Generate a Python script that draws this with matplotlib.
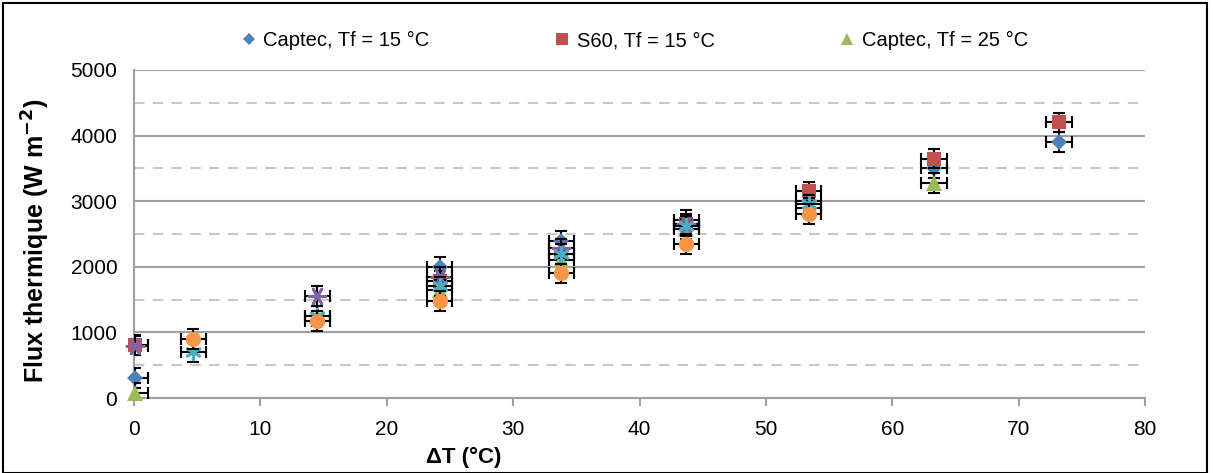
import matplotlib
matplotlib.use("Agg")
import matplotlib.pyplot as plt
from matplotlib.patches import Rectangle
from matplotlib.ticker import MultipleLocator

plt.rcParams['font.family'] = ['Liberation Sans', 'DejaVu Sans']

# ================================
# Data
# ================================

x_captec15 = [0.1, 24.2, 33.8, 43.7, 53.4, 63.3, 73.2]
y_captec15 = [300, 2000, 2400, 2720, 3000, 3500, 3900]

x_s60 = [0.1, 24.2, 33.8, 43.7, 53.4, 63.3, 73.2]
y_s60 = [810, 1790, 2200, 2650, 3150, 3650, 4200]

x_captec25 = [0.1, 14.5, 24.2, 33.8, 43.7, 53.4, 63.3]
y_captec25 = [80, 1250, 1650, 2100, 2580, 2900, 3280]

x_purple = [0.1, 14.5, 24.2, 33.8, 43.7]
y_purple = [800, 1560, 1850, 2280, 2650]

x_cyan = [4.7, 14.5, 24.2, 33.8, 43.7, 53.4]
y_cyan = [700, 1250, 1700, 2200, 2620, 2950]

x_orange = [4.7, 14.5, 24.2, 33.8, 43.7, 53.4]
y_orange = [900, 1170, 1480, 1900, 2350, 2800]

x_err = 1.0
y_err = 150

series = [
    (x_captec15, y_captec15, 'D', '#4F81BD', 8, 'Captec, Tf = 15 °C'),
    (x_s60, y_s60, 's', '#C0504D', 10, 'S60, Tf = 15 °C'),
    (x_captec25, y_captec25, '^', '#9BBB59', 11, 'Captec, Tf = 25 °C'),
    (x_purple, y_purple, 'star', '#8064A2', 0, None),
    (x_cyan, y_cyan, 'cross', '#4BACC6', 0, None),
    (x_orange, y_orange, 'o', '#F79646', 11, None),
]

# ================================
# Plot
# ================================

fig = plt.figure(figsize=(12.13, 4.73), dpi=100)
ax = fig.add_axes([134 / 1213, 75 / 473, 1011 / 1213, 328 / 473])

fig.patches.append(Rectangle((3 / 1213, 0), 1204 / 1213, 470 / 473,
                             transform=fig.transFigure, fill=False,
                             edgecolor='black', linewidth=1.5))

handles = []
for i, (xs, ys, mk, col, ms, lab) in enumerate(series):
    ax.errorbar(xs, ys, xerr=x_err, yerr=y_err, fmt='none', ecolor='black',
                elinewidth=1.5, capsize=4, capthick=1.5, zorder=3 + 2 * i)
    if mk == 'cross':
        h = ax.scatter(xs, ys, marker=(6, 2, 0), s=110, color=col,
                       linewidths=2, zorder=4 + 2 * i, clip_on=False)
    elif mk == 'star':
        h = ax.scatter(xs, ys, marker=(6, 2, 90), s=150, color=col,
                       linewidths=2, zorder=4 + 2 * i, clip_on=False)
    else:
        h, = ax.plot(xs, ys, linestyle='none', marker=mk, color=col,
                     markersize=ms, markeredgewidth=0, zorder=4 + 2 * i,
                     clip_on=False)
    if lab:
        h.set_label(lab)
        handles.append(h)

ax.set_xlim(0, 80)
ax.set_ylim(0, 5000)
ax.xaxis.set_major_locator(MultipleLocator(10))
ax.yaxis.set_major_locator(MultipleLocator(1000))
ax.yaxis.set_minor_locator(MultipleLocator(500))

ax.grid(axis='y', which='major', color='#a0a0a0', linewidth=1.5)
ax.grid(axis='y', which='minor', color='#c8c8c8', linewidth=1.5,
        linestyle=(0, (5, 4)))
ax.set_axisbelow(True)

for s in ['top', 'right']:
    ax.spines[s].set_visible(False)
ax.spines['left'].set_color('#a0a0a0')
ax.spines['bottom'].set_color('#a0a0a0')
ax.spines['left'].set_linewidth(1.5)
ax.spines['bottom'].set_linewidth(1.5)
ax.spines['left'].set_zorder(1)

ax.tick_params(axis='x', which='major', length=6, width=1.5, color='#a0a0a0',
               labelsize=15, pad=10)
ax.tick_params(axis='y', which='both', length=0, labelsize=15, pad=12)

ax.set_xlabel('\u0394T (°C)', fontsize=16, fontweight='bold')
ax.xaxis.set_label_coords(0.326, -0.15)
ax.set_ylabel('Flux thermique (W m$^{\\mathbf{-2}}$)', fontsize=18,
              fontweight='bold')
ax.yaxis.set_label_coords(-0.081, 0.48)

leg = ax.legend(handles=handles, loc='lower center', bbox_to_anchor=(0.495, 1.005),
                ncol=3, frameon=False, fontsize=14.5, handlelength=0.8,
                handletextpad=0.3, columnspacing=6.2, markerscale=0.8)

fig.savefig('out.png', dpi=100)
